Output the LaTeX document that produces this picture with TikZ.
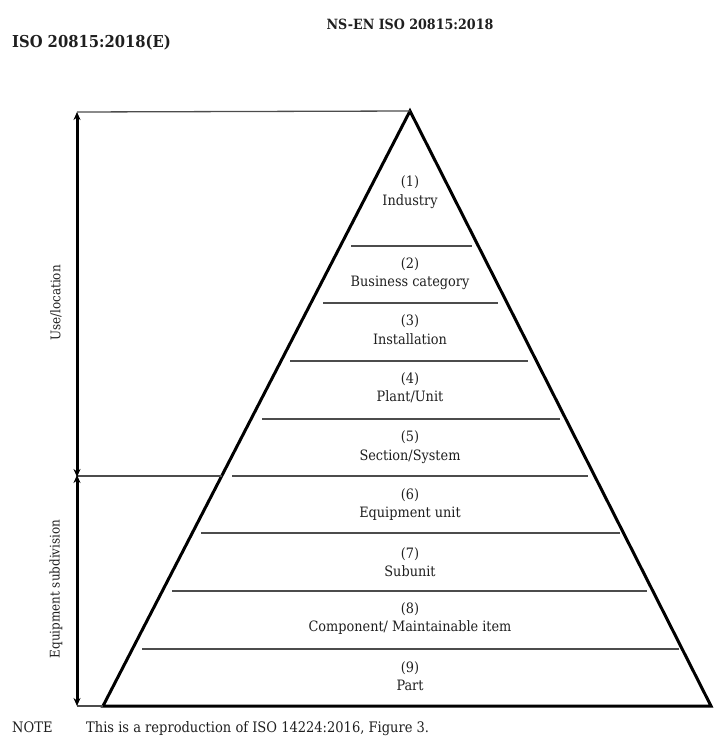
\documentclass[tikz,border=0pt]{standalone}
\usepackage{fontspec}
\setmainfont{DejaVu Serif Condensed}
\usetikzlibrary{arrows.meta}
\definecolor{txt}{gray}{0.12}
\definecolor{thin}{gray}{0.3}
\tikzset{
  lbl/.style={font=\fontsize{14.3}{16}\selectfont, text=txt, inner sep=0pt, text height=10pt, text depth=3pt},
  band/.style={line width=1.3pt, draw=thin},
  edge/.style={line width=3pt, draw=black, line join=miter},
  dimarrow/.style={line width=3pt, draw=black, {Stealth[length=8pt,width=7pt]}-{Stealth[length=8pt,width=7pt]}},
  side/.style={font=\fontsize{13.3}{15}\selectfont, text=txt, inner sep=0pt, rotate=90},
  guide/.style={line width=1.3pt, draw=thin},
  notefont/.style={font=\fontsize{14.5}{16}\selectfont, text=txt, inner sep=0pt, anchor=west, text height=10pt, text depth=3pt}
}
\begin{document}
\begin{tikzpicture}[x=1pt,y=-1pt]
\useasboundingbox (0,0) rectangle (713,736);
% headers
\node[font=\bfseries\fontsize{14.1}{16}\selectfont, text=txt, inner sep=0pt] (hdr1) at (410,24) {NS-EN ISO 20815:2018};
\node[font=\bfseries\fontsize{16.4}{18}\selectfont, text=txt, inner sep=0pt, anchor=west] (hdr2) at (12,43) {ISO 20815:2018(E)};
% pyramid
\coordinate (apex) at (410,111);
\coordinate (bl) at (103,706);
\coordinate (br) at (711,706);
\draw[edge] (apex) -- (bl) -- (br) -- cycle;
% band lines
\foreach \i/\y/\a/\b in {1/246/351/472, 2/303/323/498, 3/361/290/528, 4/419/262/560, 5/476/232/588, 6/533/201/620, 7/591/172/647, 8/649/142/679}{
  \coordinate (l\i) at (\a,\y);
  \coordinate (r\i) at (\b,\y);
  \draw[band] (l\i) -- (r\i);
}
% guides
\coordinate (gt) at (77,112);
\coordinate (gm) at (77,476);
\coordinate (gb) at (77,706);
\coordinate (gme) at (222,476);
\draw[guide] (gt) -- (apex);
\draw[guide] (gm) -- (gme);
\draw[guide] (gb) -- (bl);
\draw[dimarrow] (gt) -- ([yshift=-1pt]gm);
\draw[dimarrow] ([yshift=1pt]gm) -- (gb);
\node[side] (use) at (56,303) {Use/location};
\node[side] (equip) at (56,589) {Equipment subdivision};
% labels
\node[lbl] (n1) at (410,183) {(1)};
\node[lbl] (t1) at (410,202) {Industry};
\node[lbl] (n2) at (410,265) {(2)};
\node[lbl] (t2) at (410,283) {Business category};
\node[lbl] (n3) at (410,322) {(3)};
\node[lbl] (t3) at (410,341) {Installation};
\node[lbl] (n4) at (410,380) {(4)};
\node[lbl] (t4) at (410,398) {Plant/Unit};
\node[lbl] (n5) at (410,438) {(5)};
\node[lbl] (t5) at (410,457) {Section/System};
\node[lbl] (n6) at (410,496) {(6)};
\node[lbl] (t6) at (410,514) {Equipment unit};
\node[lbl] (n7) at (410,555) {(7)};
\node[lbl] (t7) at (410,573) {Subunit};
\node[lbl] (n8) at (410,610) {(8)};
\node[lbl] (t8) at (410,628) {Component/ Maintainable item};
\node[lbl] (n9) at (410,669) {(9)};
\node[lbl] (t9) at (410,687) {Part};
% note
\node[notefont] (note) at (12,729) {NOTE};
\node[notefont] (notetxt) at (86,729) {This is a reproduction of ISO 14224:2016, Figure 3.};
\end{tikzpicture}
\end{document}
